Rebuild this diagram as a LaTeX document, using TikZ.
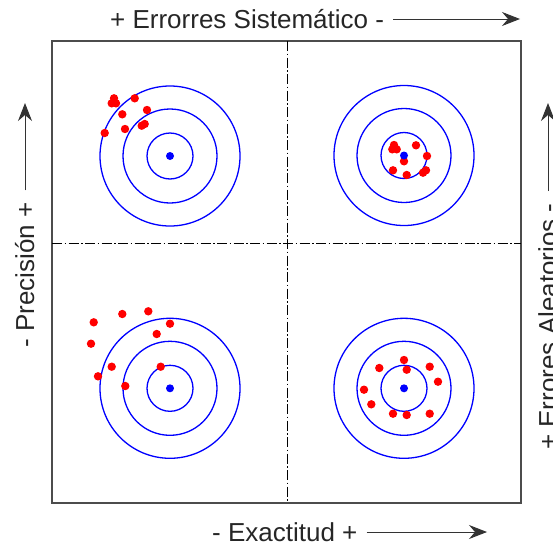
\documentclass[tikz,border=0pt]{standalone}
\usepackage{fontspec}
\setmainfont{Liberation Sans}
\usetikzlibrary{arrows.meta,positioning}
\tikzstyle{frame} = [draw=black!70, line width=1.3pt]
\tikzstyle{split} = [draw=black, line width=0.9pt, dash pattern=on 10pt off 2.5pt on 1.5pt off 2.5pt]
\tikzstyle{ring} = [draw=blue, line width=1.3pt]
\tikzstyle{shot} = [fill=red]
\tikzstyle{bull} = [fill=blue]
\tikzstyle{caption} = [font=\fontsize{26}{28}\selectfont, text=black!85, inner sep=0pt]
\tikzstyle{axis} = [draw=black!80, line width=1pt]

\begin{document}
\begin{tikzpicture}[x=1pt, y=1pt]
    \useasboundingbox (0,0) rectangle (553,-546);
    % frame and quadrants
    \coordinate (nw) at (52,-41);
    \coordinate (se) at (521,-503);
    \path [frame] (nw) rectangle (se);
    \coordinate (midtop) at (287,-41);
    \coordinate (midbot) at (287,-503);
    \coordinate (midleft) at (52,-243);
    \coordinate (midright) at (521,-243);
    \path [split] (midtop) -- (midbot);
    \path [split] (midleft) -- (midright);
    % targets
    \coordinate (tl) at (170,-156);
    \coordinate (tr) at (404,-155.5);
    \coordinate (bl) at (170,-388.3);
    \coordinate (br) at (404,-388.3);
    \foreach \c in {tl,tr,bl,br}
      \foreach \r in {23,47,70}
        \draw [ring] (\c) circle (\r);
    % shots
    \foreach \x/\y in {114/98.3, 111.7/103.3, 116/103.3, 134.7/98.3, 147/110,
                       122.3/114.3, 141.7/125.7, 144.7/124, 125/129, 104.7/133,
                       394/145, 392.3/149.3, 396.7/149.3, 416/145.3, 427/156,
                       404/161.3, 393/170.3, 406.7/175, 423/172.7, 426/170.3,
                       93.7/322.3, 122.3/314, 148.3/311.3, 170/323.7, 156.7/334,
                       91/343.7, 111.7/366.7, 98/376.3, 160.7/366.7, 125.3/386,
                       404/360, 379.3/368, 406.7/369.7, 429.7/366.7, 438/381.7,
                       364/389.7, 371.3/404.3, 393/413.7, 406.7/415, 429.7/413.7}
      \fill [shot] (\x,-\y) circle (4.2);
    \foreach \c in {tl,tr,bl,br}
      \fill [bull] (\c) circle (4);
    % captions and arrows
    \node [caption, anchor=base west] (sist) at (110,-28) {+ Errorres Sistemático -};
    \coordinate (sistA) at ([shift={(9pt,9pt)}]sist.base east);
    \coordinate (sistB) at (520,0);
    \draw [axis, -{Stealth[length=18pt, width=14pt, inset=6pt]}] (sistA) -- (sistA -| sistB);
    \node [caption, anchor=base west] (exact) at (212,-541) {- Exactitud +};
    \coordinate (exactA) at ([shift={(9pt,9pt)}]exact.base east);
    \coordinate (exactB) at (487,0);
    \draw [axis, -{Stealth[length=18pt, width=14pt, inset=6pt]}] (exactA) -- (exactA -| exactB);
    \node [caption, anchor=base west, rotate=90] (prec) at (34,-348) {- Precisión +};
    \coordinate (precA) at ([shift={(-9pt,12pt)}]prec.base east);
    \coordinate (precB) at (0,-103);
    \draw [axis, -{Stealth[length=18pt, width=14pt, inset=6pt]}] (precA) -- (precA |- precB);
    \node [caption, anchor=base west, rotate=90] (alea) at (557,-450) {+ Errores Aleatorios -};
    \coordinate (aleaA) at ([shift={(-9pt,12pt)}]alea.base east);
    \coordinate (aleaB) at (0,-103);
    \draw [axis, -{Stealth[length=18pt, width=14pt, inset=6pt]}] (aleaA) -- (aleaA |- aleaB);
\end{tikzpicture}
\end{document}
